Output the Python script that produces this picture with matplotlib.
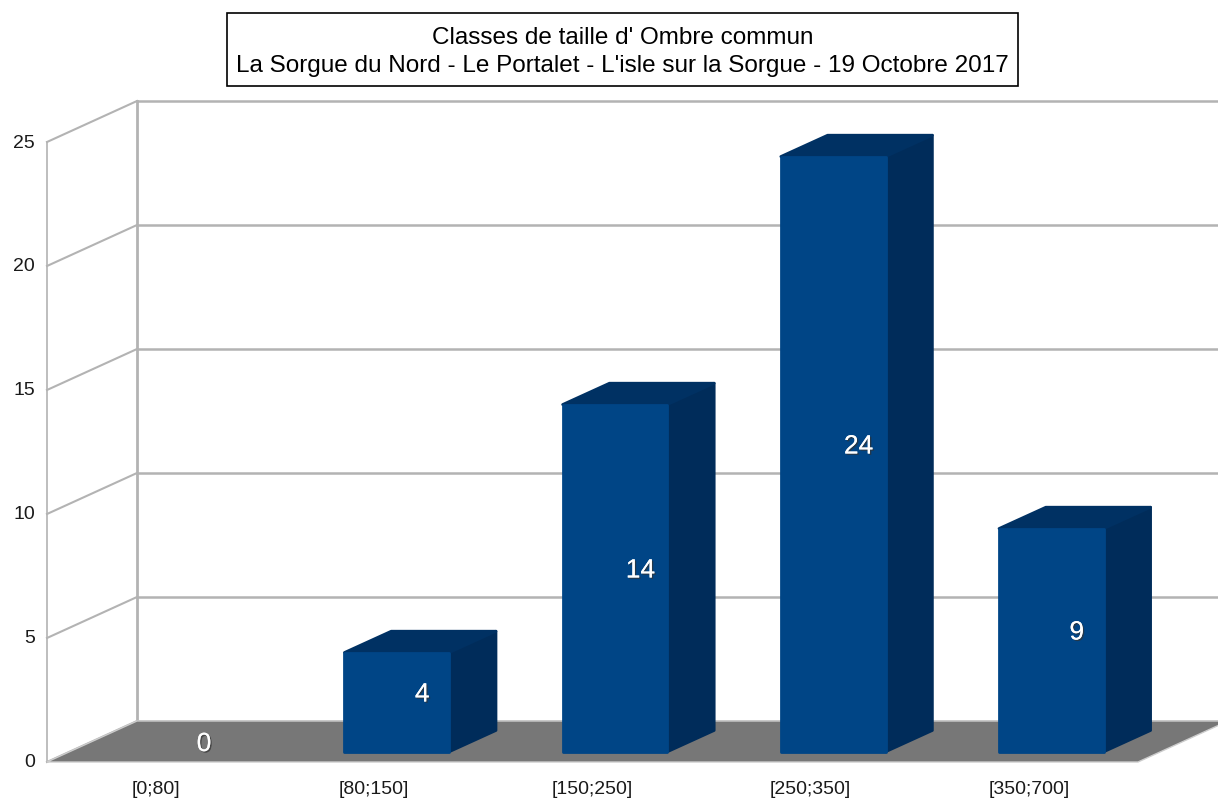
import matplotlib.pyplot as plt
from matplotlib.patches import Polygon, Rectangle
import matplotlib.patheffects as pe

# Données
classes = ['[0;80]', '[80;150]', '[150;250]', '[250;350]', '[350;700]']
effectifs = [0, 4, 14, 24, 9]
graduations = [0, 5, 10, 15, 20, 25]
titre = "Classes de taille d' Ombre commun\nLa Sorgue du Nord - Le Portalet - L'isle sur la Sorgue - 19 Octobre 2017"

# Projection oblique : (position catégorie, valeur, profondeur) -> pixels
X0, Y0 = 47, 763
PAS = 218.2      # largeur d'une catégorie
UNITE = 24.8     # pixels par unité
DX, DY = 90, 41  # décalage de la profondeur totale


def proj(c, v, d):
    return X0 + c * PAS + d * DX, Y0 - v * UNITE - d * DY


fig = plt.figure(figsize=(12.18, 8.03), dpi=100)
ax = fig.add_axes([0, 0, 1, 1])
ax.set_xlim(0, 1218)
ax.set_ylim(803, 0)
ax.axis('off')

gris = '#b3b3b3'
n = len(classes)
vmax = graduations[-1]

# Mur du fond et mur de gauche
for g in graduations:
    xa, ya = proj(0, g, 0)
    xb, yb = proj(0, g, 1)
    xc, yc = proj(n, g, 1)
    ax.plot([xa, xb], [ya, yb], color=gris, lw=1.5, zorder=1)
    ax.plot([xb, xc], [yb, yc], color=gris, lw=1.8, zorder=1)
    ax.text(xa - 12, ya, str(g), ha='right', va='center', fontsize=14,
            color='#1a1a1a', family='Liberation Sans')
for d, lw in ((0, 1.2), (1, 2.0)):
    xa, ya = proj(0, 0, d)
    xb, yb = proj(0, vmax, d)
    ax.plot([xa, xb], [ya, yb], color=gris, lw=lw, zorder=1)

# Sol
sol = [proj(0, 0, 0), proj(n, 0, 0), proj(n, 0, 1), proj(0, 0, 1)]
ax.add_patch(Polygon(sol, closed=True, facecolor='#777777', edgecolor='#cccccc',
                     lw=1, zorder=2))

# Barres 3D
w = 0.48
d0, d1 = 0.25, 0.77
face, cote, dessus = '#004586', '#002c5a', '#003163'
for i, v in enumerate(effectifs):
    c0, c1 = i + 0.5 - w / 2, i + 0.5 + w / 2
    if v > 0:
        avant = [proj(c0, 0, d0), proj(c1, 0, d0), proj(c1, v, d0), proj(c0, v, d0)]
        droite = [proj(c1, 0, d0), proj(c1, 0, d1), proj(c1, v, d1), proj(c1, v, d0)]
        haut = [proj(c0, v, d0), proj(c1, v, d0), proj(c1, v, d1), proj(c0, v, d1)]
        for pts, col in ((droite, cote), (haut, dessus), (avant, face)):
            ax.add_patch(Polygon(pts, closed=True, facecolor=col, edgecolor=col,
                                 lw=2, joinstyle='round', zorder=3))
    xl, yl = proj(i + 0.5, v / 2, (d0 + d1) / 2)
    ax.text(xl + 2, yl + 3, str(v), ha='center', va='center', fontsize=19, color='white',
            family='Liberation Sans', zorder=5,
            path_effects=[pe.withSimplePatchShadow(offset=(1, -1), shadow_rgbFace='#333333', alpha=0.7),
                          pe.Normal()])

# Étiquettes des classes
for i, c in enumerate(classes):
    x, y = proj(i + 0.5, 0, 0)
    ax.text(x, y + 27, c, ha='center', va='center', fontsize=14,
            color='#1a1a1a', family='Liberation Sans')

# Titre encadré
ax.add_patch(Rectangle((227, 14), 791, 73, facecolor='white', edgecolor='black',
                       lw=1.2, zorder=4))
ax.text(622.5, 52, titre, ha='center', va='center', fontsize=17.5, color='black',
        family='Liberation Sans', linespacing=1.35, zorder=5)

fig.savefig('out.png', dpi=100)
